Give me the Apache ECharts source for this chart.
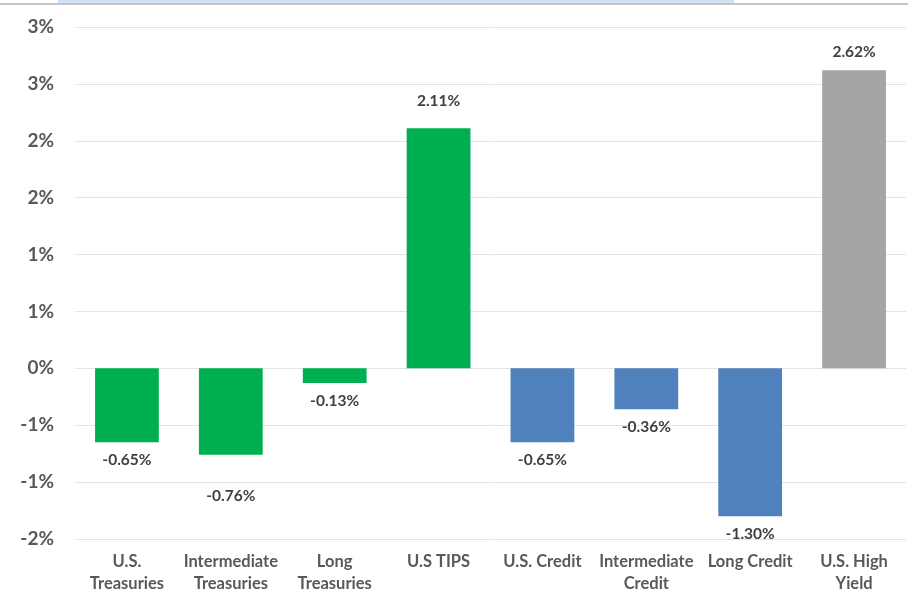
<!DOCTYPE html>
<html>
<head>
<meta charset="utf-8">
<script src="https://cdn.jsdelivr.net/npm/echarts@6/dist/echarts.min.js"></script>
<style>html,body{margin:0;padding:0;background:#fff;}#c{width:908px;height:601px;}</style>
</head>
<body>
<div id="c"></div>
<script>
const categories = ['U.S.\nTreasuries','Intermediate\nTreasuries','Long\nTreasuries','U.S TIPS','U.S. Credit','Intermediate\nCredit','Long Credit','U.S. High\nYield'];
const values = [-0.65, -0.76, -0.13, 2.11, -0.65, -0.36, -1.30, 2.62];
const valueLabels = ['-0.65%','-0.76%','-0.13%','2.11%','-0.65%','-0.36%','-1.30%','2.62%'];
const barColors = ['#00B050','#00B050','#00B050','#00B050','#4F81BD','#4F81BD','#4F81BD','#A5A5A5'];
const yTicks = [-1.5,-1,-0.5,0,0.5,1,1.5,2,2.5,3];
const yTickLabels = ['-2%','-1%','-1%','0%','1%','1%','2%','2%','3%','3%'];

// extra label spacing (manually moved labels in the original)
const labelNudge = [0, 23, 0, 9, 0, 0, 0, 0];

const FONT = 'Lato, "Open Sans", sans-serif';
const chart = echarts.init(document.getElementById('c'), null, {renderer:'canvas'});
chart.setOption({
  animation: false,
  backgroundColor: '#fff',
  graphic: [
    {type:'rect', shape:{x:58,y:0,width:676,height:3}, style:{fill:'#cfe3f5'}},
    {type:'rect', shape:{x:0,y:3,width:908,height:2}, style:{fill:'#c4c4c4'}}
  ],
  grid: {left:75, right:2, top:27, bottom:62, containLabel:false},
  xAxis: {
    type:'category',
    data: categories,
    axisLine:{show:false},
    axisTick:{show:false},
    axisLabel:{
      interval:0, margin:12, color:'#595959', fontFamily:FONT, fontSize:16.5, fontWeight:'bold', lineHeight:22
    }
  },
  yAxis: {
    type:'value',
    min: yTicks[0], max: yTicks[yTicks.length-1], interval: 0.5,
    axisLine:{show:false},
    axisTick:{show:false},
    splitLine:{lineStyle:{color:'#e4e4e4', width:1}},
    axisLabel:{
      margin:21, color:'#595959', fontFamily:FONT, fontSize:19, fontWeight:'bold',
      formatter: function(v){
        for (let i=0;i<yTicks.length;i++){ if (Math.abs(yTicks[i]-v)<1e-6) return yTickLabels[i]; }
        return '';
      }
    }
  },
  series: [{
    type:'bar',
    barWidth:'61.4%',
    data: values.map((v,i)=>({value:v, itemStyle:{color:barColors[i]}, label:{distance:10+labelNudge[i]}})),
    label:{
      show:true, position:'outside', distance:10,
      color:'#404040', fontFamily:FONT, fontSize:15.5, fontWeight:'bold',
      formatter: p => valueLabels[p.dataIndex]
    }
  }]
});
</script>
</body>
</html>
